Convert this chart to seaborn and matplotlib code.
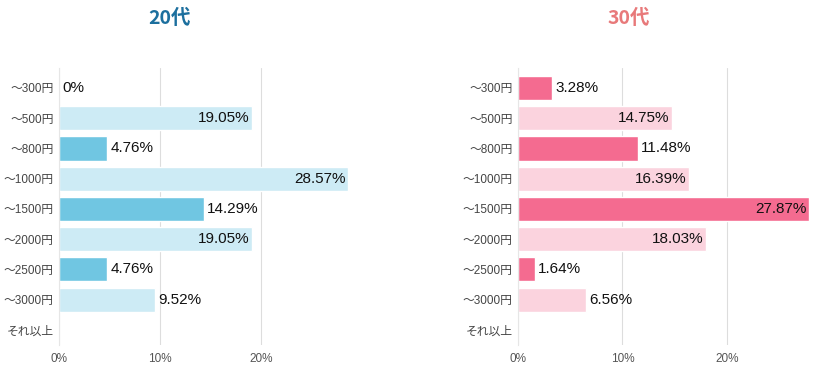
import matplotlib
matplotlib.use("Agg")
import matplotlib.pyplot as plt
import seaborn as sns
import pandas as pd

categories = ["～300円", "～500円", "～800円", "～1000円", "～1500円",
              "～2000円", "～2500円", "～3000円", "それ以上"]
values_20s = [0.0, 19.05, 4.76, 28.57, 14.29, 19.05, 4.76, 9.52, None]
values_30s = [3.28, 14.75, 11.48, 16.39, 27.87, 18.03, 1.64, 6.56, None]
titles = ["20代", "30代"]
tick_vals = [0, 10, 20]
tick_labels = ["0%", "10%", "20%"]

sns.set_theme(style="white")
plt.rcParams['font.family'] = ['Liberation Sans', 'Noto Sans CJK JP', 'DejaVu Sans']

fig = plt.figure(figsize=(8.25, 3.68), dpi=100)

panels = [
    dict(vals=values_20s, rect=[59/825, 1-345/368, (348-59)/825, (345-68)/368],
         dark="#70c6e2", light="#cdebf5", tcolor="#1c6f9e", tx=170/825),
    dict(vals=values_30s, rect=[518/825, 1-345/368, (809-518)/825, (345-68)/368],
         dark="#f46b90", light="#fbd3de", tcolor="#e8797a", tx=629/825),
]

for title, p in zip(titles, panels):
    ax = fig.add_axes(p["rect"])
    df = pd.DataFrame({"cat": categories,
                       "val": [v if v is not None else 0 for v in p["vals"]]})
    colors = [p["dark"] if i % 2 == 0 else p["light"] for i in range(len(categories))]
    sns.barplot(data=df, x="val", y="cat", hue="cat", palette=colors,
                legend=False, ax=ax, width=0.8, orient="h", saturation=1)
    vmax = max(v for v in p["vals"] if v is not None)
    ax.set_xlim(0, vmax)
    ax.set_ylim(8.5, -0.66)
    ax.set_xticks(tick_vals)
    ax.set_xticklabels(tick_labels, fontsize=8.5, color="#555555")
    ax.tick_params(axis="y", labelsize=8.5, colors="#444444", length=0, pad=4)
    ax.tick_params(axis="x", length=0, pad=6)
    ax.set_xlabel("")
    ax.set_ylabel("")
    for s in ["top", "right", "bottom"]:
        ax.spines[s].set_visible(False)
    ax.spines["left"].set_color("#e6e6e6")
    ax.spines["left"].set_linewidth(0.8)
    ax.xaxis.grid(True, color="#dddddd", linewidth=0.8)
    ax.set_axisbelow(True)
    for i, v in enumerate(p["vals"]):
        if v is None:
            continue
        txt = "0%" if v == 0 else f"{v:.2f}%"
        if v >= 14.5:
            ax.text(v - 0.25, i, txt, ha="right", va="center", fontsize=11,
                    color="#111111", family=["Liberation Sans", "DejaVu Sans"])
        else:
            ax.text(v + 0.3, i, txt, ha="left", va="center", fontsize=11,
                    color="#111111", family=["Liberation Sans", "DejaVu Sans"])
    fig.text(p["tx"], 1 - 18/368, title, ha="center", va="center",
             fontsize=14, fontweight="bold", color=p["tcolor"],
             family=["Noto Sans CJK JP", "DejaVu Sans"])

fig.savefig("out.png", dpi=100)
